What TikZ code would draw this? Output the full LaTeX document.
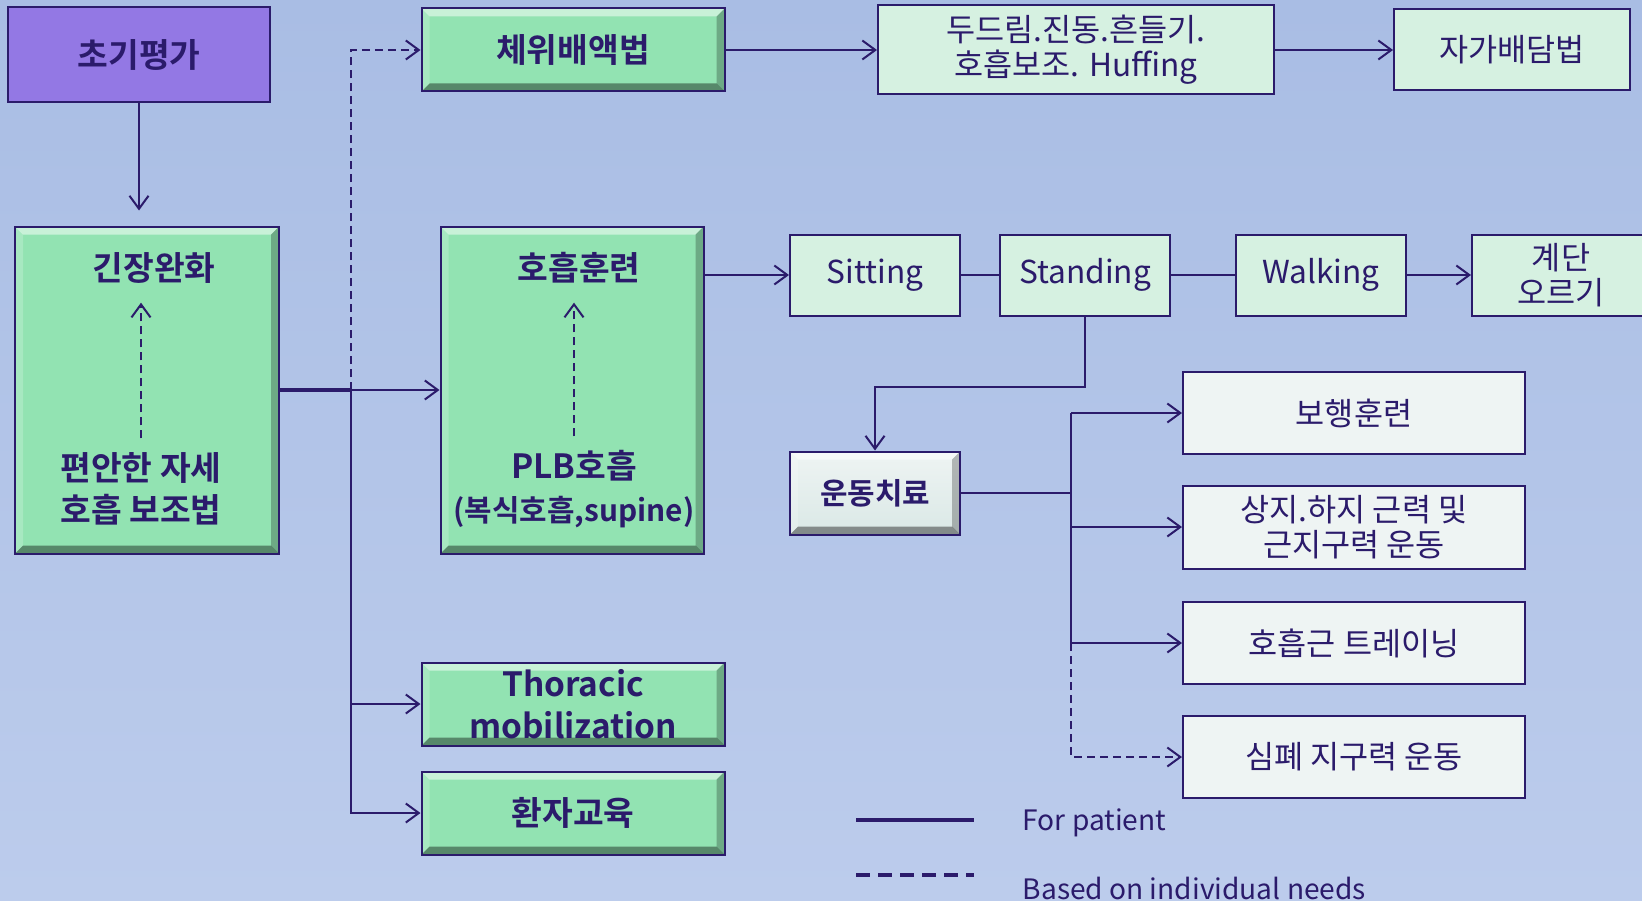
\documentclass[tikz,border=0pt]{standalone}
\usepackage{fontspec}
\setmainfont{Noto Sans CJK KR}[BoldFont={Noto Sans CJK KR Bold}]
\usepackage{tikz}
\usetikzlibrary{arrows.meta}
\usetikzlibrary{calc}
\definecolor{mnavy}{RGB}{43,27,107}
\definecolor{mgreen}{RGB}{146,227,178}
\definecolor{mpurple}{RGB}{147,120,228}
\definecolor{mmint}{RGB}{214,241,225}
\definecolor{mgray}{RGB}{238,244,243}
\definecolor{msilver}{RGB}{218,232,230}
\definecolor{mbgtop}{RGB}{169,189,228}
\definecolor{mbgbot}{RGB}{188,204,236}
\tikzset{bevel/.style = {path picture={
             \path (path picture bounding box.north west) coordinate (bnw)
                   (path picture bounding box.north east) coordinate (bne)
                   (path picture bounding box.south west) coordinate (bsw)
                   (path picture bounding box.south east) coordinate (bse);
             \fill[white, opacity=.5] (bnw) -- (bne) -- ([shift={(-.8mm,-.8mm)}]bne) -- ([shift={(.8mm,-.8mm)}]bnw) -- cycle;
             \fill[white, opacity=.2] (bnw) -- (bsw) -- ([shift={(.8mm,.8mm)}]bsw) -- ([shift={(.8mm,-.8mm)}]bnw) -- cycle;
             \fill[black, opacity=.25] (bne) -- (bse) -- ([shift={(-.8mm,.8mm)}]bse) -- ([shift={(-.8mm,-.8mm)}]bne) -- cycle;
             \fill[black, opacity=.4] (bsw) -- (bse) -- ([shift={(-.8mm,.8mm)}]bse) -- ([shift={(.8mm,.8mm)}]bsw) -- cycle;}}}
\tikzset{box/.style = {draw=mnavy, line width=0.2mm, text=mnavy, align=center, inner sep=0pt},
         greenbox/.style = {box, fill=mgreen, bevel, font=\bfseries\fontsize{9.5}{12}\selectfont},
         purplebox/.style = {box, fill=mpurple, font=\bfseries\fontsize{9.5}{12}\selectfont},
         mintbox/.style = {box, fill=mmint, font=\fontsize{9}{10}\selectfont},
         graybox/.style = {box, fill=mgray, font=\fontsize{9}{10}\selectfont},
         silverbox/.style = {box, top color=mgray, bottom color=msilver, bevel, font=\bfseries\fontsize{8.5}{10}\selectfont},
         lbl/.style = {text=mnavy, align=center, inner sep=1pt, font=\bfseries\fontsize{9.5}{12}\selectfont},
         legtext/.style = {text=mnavy, inner sep=0pt, font=\fontsize{8}{10}\selectfont},
         conn/.style = {draw=mnavy, line width=0.2mm},
         arr/.style = {conn, -{Straight Barb[length=1.3mm, width=1.9mm]}},
         dashline/.style = {dash pattern=on 0.8mm off 0.5mm}}

\begin{document}
\begin{tikzpicture}[x=0.1mm, y=-0.1mm]
    \useasboundingbox (0,0) rectangle (1642,900);
    \shade[top color=mbgtop, bottom color=mbgbot] (0,0) rectangle (1642,900);

    \node[purplebox, minimum width=26.2mm, minimum height=9.5mm] (init) at (139,55) {초기평가};
    \node[greenbox, minimum width=30.3mm, minimum height=8.3mm] (drain) at (573,50) {체위배액법};
    \node[mintbox, minimum width=39.6mm, minimum height=8.9mm] (perc) at (1076,50) {두드림.진동.흔들기.\\호흡보조. Huffing};
    \node[mintbox, minimum width=23.6mm, minimum height=8.1mm] (selfd) at (1512,50) {자가배담법};

    \node[greenbox, minimum width=26.4mm, minimum height=32.7mm] (relax) at (147,390) {};
    \node[lbl] (relaxt) at (154,268) {긴장완화};
    \node[lbl] (relaxb) at (141,489) {편안한 자세\\호흡 보조법};
    \node[greenbox, minimum width=26.3mm, minimum height=32.7mm] (breath) at (572,390) {};
    \node[lbl] (breatht) at (579,268) {호흡훈련};
    \node[lbl] (breathb) at (574,489) {PLB호흡\\{\fontsize{8.5}{12}\selectfont(복식호흡,supine)}};

    \node[greenbox, minimum width=30.3mm, minimum height=8.3mm] (thor) at (573,704) {Thoracic\\mobilization};
    \node[greenbox, minimum width=30.3mm, minimum height=8.3mm] (edu) at (573,813) {환자교육};

    \node[mintbox, minimum width=17mm, minimum height=8.1mm] (sit) at (875,275) {Sitting};
    \node[mintbox, minimum width=17mm, minimum height=8.1mm] (stand) at (1085,275) {Standing};
    \node[mintbox, minimum width=17mm, minimum height=8.1mm] (walk) at (1321,275) {Walking};
    \node[mintbox, minimum width=17.8mm, minimum height=8.1mm] (stair) at (1561,275) {계단\\오르기};

    \node[silverbox, minimum width=17mm, minimum height=8.3mm] (ex) at (875,493) {운동치료};
    \node[graybox, minimum width=34.2mm, minimum height=8.2mm] (gait) at (1354,413) {보행훈련};
    \node[graybox, minimum width=34.2mm, minimum height=8.3mm] (limb) at (1354,527) {상지.하지 근력 및\\근지구력 운동};
    \node[graybox, minimum width=34.2mm, minimum height=8.2mm] (resp) at (1354,643) {호흡근 트레이닝};
    \node[graybox, minimum width=34.2mm, minimum height=8.2mm] (cardio) at (1354,757) {심폐 지구력 운동};

    \coordinate (trunk) at (351,390);
    \coordinate (hub) at (1071,493);

    \draw[arr, shorten >=1.5mm] (init.south) -- (init.south |- relax.north);
    \draw[arr, dashline, shorten <=1mm, shorten >=1.5mm] (relaxb.north) -- (relaxb.north |- relaxt.south);
    \draw[arr, dashline, shorten <=1mm, shorten >=1.5mm] (breathb.north) -- (breathb.north |- breatht.south);
    \draw[conn, line width=0.45mm] (relax.east) -- (trunk);
    \draw[arr] (trunk) -- (breath.west);
    \draw[arr, dashline] (trunk) |- (drain.west);
    \draw[arr] (trunk) |- (thor.west);
    \draw[arr] (trunk) |- (edu.west);
    \draw[arr] (drain) -- (perc);
    \draw[arr] (perc) -- (selfd);

    \draw[arr] (breath.east |- sit) -- (sit);
    \draw[conn] (sit) -- (stand);
    \draw[conn] (stand) -- (walk);
    \draw[arr] (walk) -- (stair);
    \draw[arr] (stand.south) -- ++(0,70) -| (ex.north);

    \draw[conn] (ex.east) -- (hub);
    \draw[conn] (hub |- gait) -- (hub |- resp);
    \draw[arr] (hub |- gait) -- (gait);
    \draw[arr] (hub |- limb) -- (limb);
    \draw[arr] (hub |- resp) -- (resp);
    \draw[arr, dashline] (hub |- resp) -- (hub |- cardio) -- (cardio);

    \draw[conn, line width=0.35mm] (856,820) -- (974,820);
    \draw[conn, line width=0.35mm, dash pattern=on 1.4mm off 0.8mm] (856,875) -- (974,875);
    \node[legtext, anchor=west] (lgsolid) at (1022,823) {For patient};
    \node[legtext, anchor=west] (lgdash) at (1022,888) {Based on individual needs};
\end{tikzpicture}
\end{document}
